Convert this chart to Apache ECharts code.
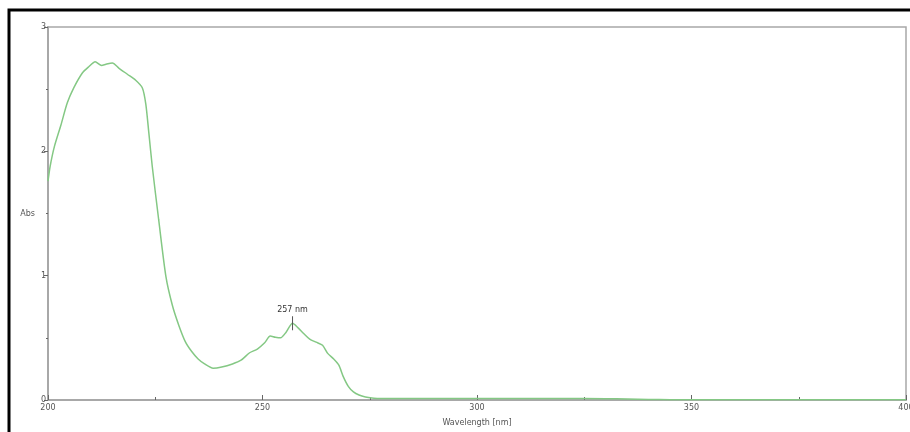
<!DOCTYPE html>
<html><head><meta charset="utf-8">
<script src="https://cdn.jsdelivr.net/npm/echarts@6/dist/echarts.min.js"></script>
<style>html,body{margin:0;padding:0;background:#fff}#c{width:910px;height:432px}</style>
</head><body><div id="c"></div>
<script>
const wavelength = [200,200.5,201.5,203,204.5,206,208,209.5,211,212.5,213.5,215,216.5,218.5,220.5,222,222.8,223.5,224.3,225.8,227.5,229,230.5,232,233.5,235,236.5,238.5,240.5,243,245,247,248.8,250.5,251.8,253,254.2,255.5,257,258.3,259.6,261,262.5,264,265.2,266.6,267.8,268.8,270,271.2,272.5,274,276,280,290,300,310,320,330,335,340,345,350,360,380,400];
const absorbance = [1.76,1.88,2.04,2.21,2.39,2.51,2.63,2.68,2.72,2.69,2.70,2.71,2.67,2.62,2.57,2.51,2.38,2.15,1.88,1.45,0.99,0.76,0.60,0.47,0.39,0.33,0.29,0.255,0.265,0.29,0.32,0.38,0.41,0.46,0.515,0.505,0.50,0.545,0.617,0.58,0.535,0.49,0.465,0.44,0.375,0.33,0.28,0.19,0.11,0.065,0.04,0.025,0.015,0.012,0.012,0.012,0.012,0.012,0.011,0.008,0.004,0.003,0.003,0.003,0.003,0.003];
const xTicks = [200,250,300,350,400];
const yTicks = [0,1,2,3];
const peakLabel = '257 nm';

// locate the labelled peak (maximum in the secondary band)
let pk = 0;
for (let i = 0; i < wavelength.length; i++) {
  if (wavelength[i] > 240 && (pk === 0 || absorbance[i] > absorbance[pk])) pk = i;
}
const pts = wavelength.map((w, i) => [w, absorbance[i]]);

const txt = '#555';
const axisGray = '#a8a8a8';
const chart = echarts.init(document.getElementById('c'), null, {renderer: 'canvas'});
chart.setOption({
  animation: false,
  backgroundColor: '#fff',
  grid: {left: 48, top: 27, right: 4, bottom: 32, show: true, borderColor: axisGray, borderWidth: 1.5, outerBoundsMode: 'none', containLabel: false},
  xAxis: {
    type: 'value', min: xTicks[0], max: xTicks[xTicks.length - 1], interval: 50,
    name: 'Wavelength [nm]', nameLocation: 'middle', nameGap: 19,
    nameTextStyle: {color: txt, fontSize: 8, fontFamily: 'DejaVu Sans'},
    axisLine: {show: true, lineStyle: {color: axisGray, width: 2}},
    axisTick: {show: true, inside: true, length: 5, lineStyle: {color: '#666'}},
    minorTick: {show: true, splitNumber: 2, length: 3, lineStyle: {color: '#666'}},
    axisLabel: {color: txt, fontSize: 8, fontFamily: 'DejaVu Sans', margin: 4, hideOverlap: false},
    splitLine: {show: false}
  },
  yAxis: {
    type: 'value', min: yTicks[0], max: yTicks[yTicks.length - 1], interval: 1,
    name: 'Abs', nameLocation: 'middle', nameRotate: 0, nameGap: 12,
    nameTextStyle: {color: txt, fontSize: 8, fontFamily: 'DejaVu Sans', padding: [16, 0, 0, 0]},
    axisLine: {show: true, lineStyle: {color: axisGray, width: 2}},
    axisTick: {show: true, inside: false, length: 4, lineStyle: {color: '#666'}},
    minorTick: {show: true, splitNumber: 2, length: 2, lineStyle: {color: '#666'}},
    axisLabel: {color: txt, fontSize: 8, fontFamily: 'DejaVu Sans', margin: 2},
    splitLine: {show: false}
  },
  graphic: [{
    type: 'rect', shape: {x: 9, y: 10, width: 2000, height: 2000},
    style: {fill: null, stroke: '#000', lineWidth: 3}, silent: true, z: 100
  }],
  series: [{
    type: 'line', data: pts, showSymbol: false, smooth: 0.25,
    lineStyle: {color: '#84c884', width: 1.5},
    markPoint: {
      symbol: 'rect', symbolSize: [1, 14],
      itemStyle: {color: '#555'},
      label: {show: true, position: 'top', distance: 2, formatter: peakLabel, color: '#333', fontSize: 8, fontFamily: 'DejaVu Sans'},
      data: [{coord: pts[pk]}]
    }
  }]
});
</script></body></html>
